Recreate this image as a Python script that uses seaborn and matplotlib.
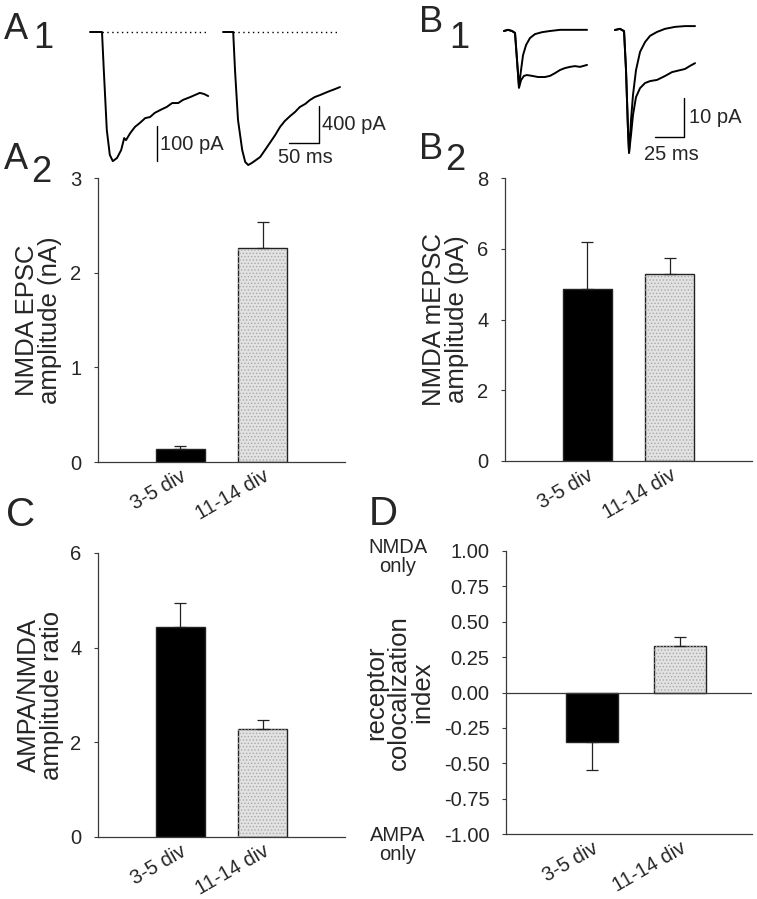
import numpy as np
import pandas as pd
import matplotlib
matplotlib.use('Agg')
import matplotlib.pyplot as plt
from matplotlib.patches import Rectangle
import seaborn as sns

sns.set_style('white')
plt.rcParams['font.family'] = ['Liberation Sans', 'DejaVu Sans']
plt.rcParams['hatch.linewidth'] = 0.6

W, H = 757, 899

# bar panel data
groups = ['3-5 div', '11-14 div']
epsc_nA = [0.14, 2.26]
epsc_err = [0.03, 0.27]
mepsc_pA = [4.85, 5.28]
mepsc_err = [1.35, 0.45]
ratio = [4.44, 2.28]
ratio_err = [0.51, 0.19]
coloc = [-0.35, 0.33]
coloc_err = [0.20, 0.06]

# A1 traces (ms, pA)
a1a_t = [0, 20, 23, 28, 33, 38, 45, 52, 57, 60, 67, 75, 83, 92, 100, 108, 117, 128, 137, 147, 155, 167, 175, 183, 190, 197]
a1a_i = [0, 0, -109, -280, -351, -369, -360, -337, -303, -309, -289, -271, -260, -246, -243, -231, -223, -214, -203, -203, -194, -186, -180, -174, -177, -183]
a1b_t = [0, 17, 20, 25, 32, 37, 42, 48, 55, 62, 70, 78, 87, 95, 103, 112, 120, 128, 137, 145, 153, 162, 170, 178, 187, 195]
a1b_i = [0, 0, -411, -951, -1276, -1405, -1438, -1416, -1384, -1351, -1276, -1200, -1114, -1027, -962, -908, -865, -811, -778, -735, -703, -681, -659, -638, -616, -595]

# B1 traces (ms, pA): fast and slow components
b1a_fast_t = [0, 3.4, 6.9, 9.5, 11.2, 12.9, 14.7, 16.4, 19.0, 22.4, 26.7, 32.8, 39.7, 48.3, 56.9, 65.5, 71.6]
b1a_fast_i = [0, 0.3, 0, -0.5, -7.4, -14.1, -10.0, -6.2, -3.6, -1.8, -0.8, -0.3, 0, 0.3, 0.3, 0.3, 0.3]
b1a_slow_t = [0, 3.4, 6.9, 9.5, 11.2, 12.9, 14.7, 17.2, 19.8, 24.1, 29.3, 35.3, 39.7, 44.0, 48.3, 52.6, 56.9, 61.2, 65.5, 71.6]
b1a_slow_i = [0, 0.3, 0, -0.5, -7.4, -14.6, -12.6, -11.5, -11.3, -11.5, -11.8, -11.8, -11.5, -10.8, -10.0, -9.5, -9.2, -9.0, -9.2, -8.7]
b1b_fast_t = [0, 4.3, 7.8, 9.5, 11.2, 12.1, 13.8, 15.5, 18.1, 21.6, 25.9, 30.2, 36.2, 43.1, 51.7, 60.3, 69.0]
b1b_fast_i = [0, 0.3, -0.3, -10.3, -25.6, -31.5, -23.1, -16.7, -10.3, -5.6, -3.1, -1.5, -0.5, 0.3, 0.8, 1.0, 1.0]
b1b_slow_t = [0, 4.3, 7.8, 9.5, 11.2, 12.1, 13.8, 15.5, 18.1, 21.6, 25.9, 30.2, 36.2, 43.1, 49.1, 56.0, 60.3, 64.7, 69.0]
b1b_slow_i = [0, 0.3, -0.3, -10.3, -25.6, -31.5, -26.9, -21.8, -17.2, -14.9, -13.6, -13.1, -12.8, -11.8, -10.8, -10.3, -10.0, -9.2, -8.5]

SMALL = 14.5
LABEL = 18.5


def box(l, t, r, b):
    return [l / W, 1 - b / H, (r - l) / W, (b - t) / H]


fig = plt.figure(figsize=(W / 100, H / 100), dpi=100)


def trace_ax(x0, y0, sx, sy, l, t, r, b):
    ax = fig.add_axes(box(l, t, r, b))
    ax.set_xlim((l - x0) / sx, (r - x0) / sx)
    ax.set_ylim(-(b - y0) / sy, -(t - y0) / sy)
    ax.axis('off')
    return ax


def trace(ax, t, i):
    sns.lineplot(x=t, y=i, ax=ax, color='k', lw=1.4, sort=False, estimator=None)


txt = dict(fontsize=SMALL, clip_on=False)

# A1
ax = trace_ax(90, 32, 0.6, 0.35, 85, 20, 215, 175)
trace(ax, a1a_t, a1a_i)
ax.plot([20, 197], [0, 0], color='k', lw=1, ls=(0, (1, 2.5)))
ax.plot([112, 112], [-269, -369], color='k', lw=1)
ax.text(116, -320, '100 pA', va='center', ha='left', **txt)

ax = trace_ax(223, 32, 0.6, 0.0925, 215, 20, 345, 175)
trace(ax, a1b_t, a1b_i)
ax.plot([17, 195], [0, 0], color='k', lw=1, ls=(0, (1, 2.5)))
ax.plot([110, 160, 160], [-1200, -1200, -800], color='k', lw=1)
ax.text(165, -1000, '400 pA', va='center', ha='left', **txt)
ax.text(137, -1360, '50 ms', va='center', ha='center', **txt)

# B1
ax = trace_ax(504, 31, 1.16, 3.9, 495, 15, 600, 175)
trace(ax, b1a_slow_t, b1a_slow_i)
trace(ax, b1a_fast_t, b1a_fast_i)

ax = trace_ax(615, 30, 1.16, 3.9, 605, 15, 757, 175)
trace(ax, b1b_slow_t, b1b_slow_i)
trace(ax, b1b_fast_t, b1b_fast_i)
ax.plot([34.5, 59.5, 59.5], [-27.4, -27.4, -17.4], color='k', lw=1)
ax.text(64, -22.4, '10 pA', va='center', ha='left', **txt)
ax.text(49, -32, '25 ms', va='center', ha='center', **txt)


def bar_panel(rect, vals, errs, ylim, yticks, ylabel, labx, xlim=(-1, 2), fmt=None):
    ax = fig.add_axes(rect)
    df = pd.DataFrame({'group': groups, 'val': vals})
    sns.barplot(data=df, x='group', y='val', hue='group', palette=['black', '#e2e2e2'],
                edgecolor='#222222', linewidth=1.0, width=0.6, legend=False, ax=ax)
    # stipple texture on the light bar
    p = ax.patches[1]
    ax.add_patch(Rectangle(p.get_xy(), p.get_width(), p.get_height(), fill=False,
                           hatch='.....', edgecolor='#a8a8a8', lw=0, zorder=p.get_zorder()))
    for k, (v, e) in enumerate(zip(vals, errs)):
        yerr = [[0], [e]] if v >= 0 else [[e], [0]]
        ax.errorbar(k, v, yerr=yerr, color='#222222', lw=0.9, capsize=4, capthick=0.9, zorder=5)
    ax.set_xlim(*xlim)
    ax.set_ylim(*ylim)
    ax.set_yticks(yticks)
    if fmt:
        ax.set_yticklabels([fmt.format(y) for y in yticks])
    ax.set_xlabel('')
    ax.set_ylabel(ylabel, fontsize=LABEL, linespacing=0.95)
    ax.yaxis.set_label_coords(labx, 0.5)
    for s in ['top', 'right']:
        ax.spines[s].set_visible(False)
    for s in ['left', 'bottom']:
        ax.spines[s].set_color('#3a3a3a')
        ax.spines[s].set_linewidth(0.9)
    ax.tick_params(axis='y', left=True, direction='out', length=3, width=0.8,
                   color='#3a3a3a', labelsize=SMALL, pad=9)
    ax.tick_params(axis='x', bottom=False, labelsize=SMALL, pad=0)
    for lab in ax.get_xticklabels():
        lab.set_rotation(30)
        lab.set_ha('right')
        lab.set_rotation_mode('anchor')
    return ax


bar_panel(box(98, 178, 345, 462), epsc_nA, epsc_err, (0, 3), [0, 1, 2, 3],
          'NMDA EPSC\namplitude (nA)', -0.146)
bar_panel(box(505, 178, 752, 461), mepsc_pA, mepsc_err, (0, 8), [0, 2, 4, 6, 8],
          'NMDA mEPSC\namplitude (pA)', -0.146)
bar_panel(box(98, 553, 345, 837), ratio, ratio_err, (0, 6), [0, 2, 4, 6],
          'AMPA/NMDA\namplitude ratio', -0.138)
ax = bar_panel(box(506, 551, 752, 834), coloc, coloc_err, (-1, 1),
               [1, 0.75, 0.5, 0.25, 0, -0.25, -0.5, -0.75, -1],
               'receptor\ncolocalization\nindex', -0.293, xlim=(-0.98, 1.82), fmt='{:.2f}')
ax.axhline(0, color='#3a3a3a', lw=0.9, zorder=1)
tr = matplotlib.transforms.blended_transform_factory(ax.transAxes, ax.transData)
ax.text(-0.44, 0.958, 'NMDA\nonly', transform=tr, ha='center', va='center',
        fontsize=SMALL, linespacing=1.0)
ax.text(-0.44, -1.078, 'AMPA\nonly', transform=tr, ha='center', va='center',
        fontsize=SMALL, linespacing=1.0)


def plabel(x, y, s, size=26):
    fig.text(x / W, 1 - y / H, s, fontsize=size, va='baseline', ha='left')


plabel(4, 39, 'A')
plabel(33, 48, '1')
plabel(4, 169, 'A')
plabel(31, 182, '2')
plabel(419, 32, 'B')
plabel(449, 48, '1')
plabel(419, 159, 'B')
plabel(445, 170, '2')
plabel(6, 526, 'C', 29)
plabel(369, 525, 'D', 29)

fig.savefig('out.png', dpi=100)
